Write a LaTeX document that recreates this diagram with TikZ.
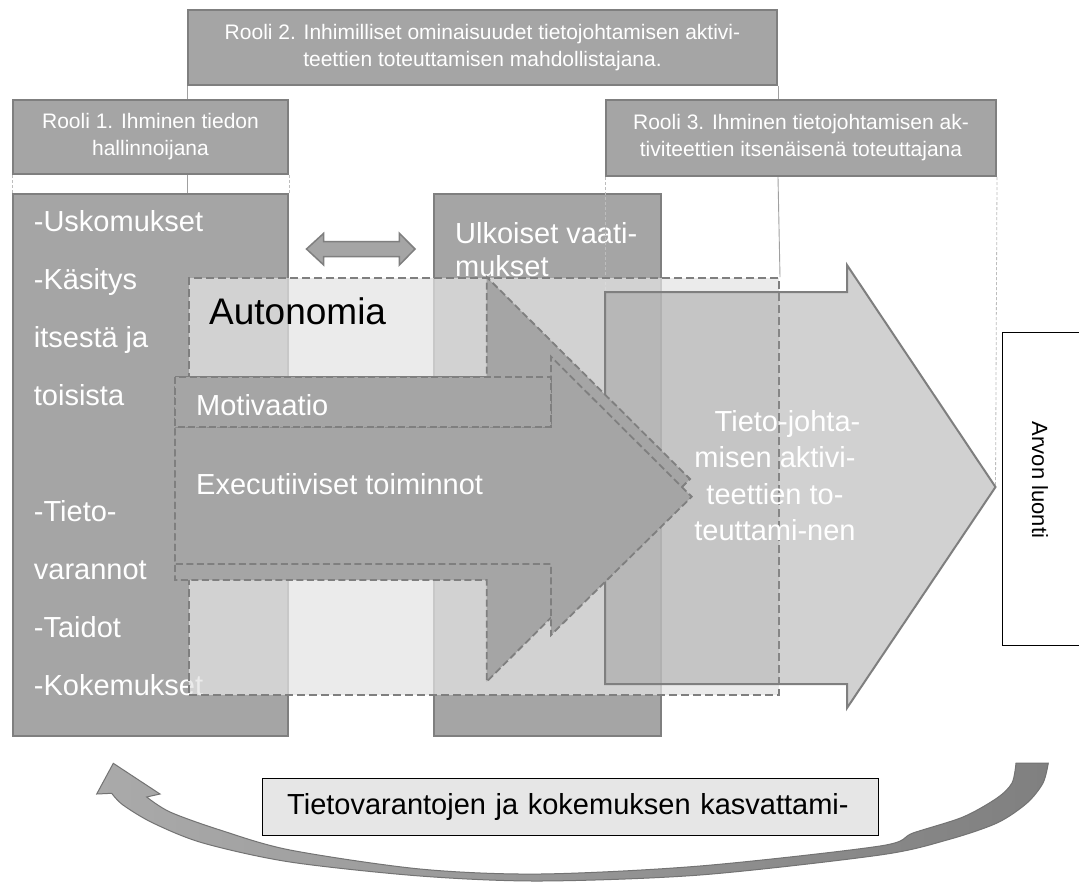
\documentclass[tikz,border=0pt]{standalone}
\usepackage{fontspec}
\setmainfont{Liberation Sans}
\usepackage{xcolor}
\usetikzlibrary{
	arrows.meta,
	calc,
	positioning
}
\definecolor{BoxGray}{RGB}{165,165,165}
\definecolor{EdgeGray}{RGB}{127,127,127}
\definecolor{FogGray}{RGB}{228,228,228}
\definecolor{FlowGray}{RGB}{145,145,145}
\definecolor{GuideGray}{RGB}{160,160,160}
\definecolor{LabelGray}{RGB}{230,230,230}
\definecolor{LoopLight}{RGB}{170,170,170}
\definecolor{LoopDark}{RGB}{128,128,128}

\begin{document}
\begin{tikzpicture}[x=1pt, y=-1pt,
	rolebox/.style={draw=EdgeGray, line width=2pt, fill=BoxGray, text=white, align=center,
		inner sep=0pt, anchor=north west, font=\fontsize{21}{27}\selectfont},
	bigbox/.style={draw=EdgeGray, line width=2pt, fill=BoxGray, anchor=north west, inner sep=0pt},
	whitetxt/.style={text=white, inner sep=0pt, font=\fontsize{29}{58}\selectfont},
	guide/.style={draw=GuideGray, line width=0.9pt},
	guidedash/.style={draw=GuideGray!70, line width=0.8pt, dash pattern=on 3pt off 2pt},
	fogbox/.style={draw=EdgeGray, line width=2pt, dash pattern=on 8pt off 4pt, fill=FogGray,
		fill opacity=0.73, anchor=north west, inner sep=0pt},
	darkflow/.style={draw=EdgeGray, line width=1.8pt, dash pattern=on 7pt off 3.5pt, fill=BoxGray},
	lightflow/.style={draw=EdgeGray, line width=2pt, fill=FlowGray, fill opacity=0.41}
	]
			\fill[white] (0,0) rectangle (1079,884);
			\useasboundingbox (0,0) rectangle (1079,884);
			% 角色
			\node[rolebox, minimum width=589pt, minimum height=75pt] (r2) at (187,9)
				{Rooli 2. Inhimilliset ominaisuudet tietojohtamisen aktivi-\\teettien toteuttamisen mahdollistajana.};
			\node[rolebox, minimum width=275pt, minimum height=74pt] (r1) at (12,99)
				{Rooli 1. Ihminen tiedon\\hallinnoijana};
			\node[rolebox, minimum width=390pt, minimum height=76pt] (r3) at (605,99)
				{Rooli 3. Ihminen tietojohtamisen ak-\\tiviteettien itsenäisenä toteuttajana};
			% 两个大框
			\node[bigbox, minimum width=275pt, minimum height=542pt] (kb) at (12,193) {};
			\node[bigbox, minimum width=226.5pt, minimum height=542pt] (ext) at (433,193) {};
			\node[whitetxt, align=left, anchor=west] (kbtxt) at (33.7,453.5)
				{-Uskomukset\\-Käsitys\\itsestä ja\\toisista\\[58pt]-Tieto-\\varannot\\-Taidot\\-Kokemukset};
			\node[whitetxt, font=\fontsize{29}{33.4}\selectfont, align=left, anchor=west] (exttxt) at (455,249.5)
				{Ulkoiset vaati-\\mukset};
			% 辅助线
			\coordinate (cbody) at (605,292);
			\coordinate (ctip) at (995.5,487);
			\draw[guide] (r2.south west) -- (r2.south west |- r1.north);
			\draw[guide] (r2.south west |- r1.south) -- (r2.south west |- kb.north);
			\draw[guidedash] (r1.south west) -- (kb.north west);
			\draw[guidedash] (r1.south east) -- (kb.north east);
			\draw[guide] (r2.south east) -- (r2.south east |- r3.north);
			\draw[guidedash] (r3.south west) -- (cbody);
			\draw[guidedash] (r3.south east) -- (ctip);
			% 双向箭头
			\draw[fill=BoxGray, draw=EdgeGray, line width=1.5pt] (306.5,249) -- (323.7,233.3) -- (323.7,241.7)
				-- (399.4,241.7) -- (399.4,233.3) -- (415,249) -- (399.4,265) -- (399.4,256.7)
				-- (323.7,256.7) -- (323.7,265) -- cycle;
			% 自主
			\node[fogbox, minimum width=590pt, minimum height=417pt] (auto) at (188,277) {};
			\draw[guide] (r2.south east |- r3.south) -- (auto.north east);
			\node[anchor=base west, inner sep=0pt, font=\fontsize{37}{44}\selectfont] (autotxt) at (209,324) {Autonomia};
			% 浅色大箭头
			\draw[lightflow] (cbody) -- (847,292) -- (847,265) -- (ctip) -- (847,708) -- (847,684) -- (605,684) -- cycle;
			% 深色箭头
			\draw[darkflow] (175,377) -- (486.7,377) -- (486.7,277) -- (690,479) -- (486.7,681.7)
				-- (486.7,580) -- (175,580) -- cycle;
			\draw[darkflow] (175,426.7) -- (551,426.7) -- (551,356.7) -- (691.7,496.7) -- (551,635)
				-- (551,564) -- (175,564) -- cycle;
			\draw[darkflow] (175,377) rectangle (551,426.7);
			\node[whitetxt, anchor=base west] (motxt) at (196,415) {Motivaatio};
			\node[whitetxt, anchor=base west] (extxt) at (196,494) {Executiiviset toiminnot};
			\node[whitetxt, font=\fontsize{29}{36.3}\selectfont, align=center] (tieto) at (775,475.6)
				{\hspace*{25pt}Tieto-johta-\\misen aktivi-\\teettien to-\\teuttami-nen};
			% 价值
			\node[draw=black, line width=1pt, fill=white, anchor=north west, minimum width=79.3pt,
				minimum height=313.3pt, inner sep=0pt] (arvo) at (1001.7,331.7) {};
			\node[rotate=-90, inner sep=0pt, font=\fontsize{22}{26}\selectfont] (arvotxt) at (1040,480) {Arvon luonti};
			% 底部
			\node[draw=black, line width=1pt, fill=LabelGray, anchor=north west, minimum width=615.6pt,
				minimum height=57pt, text width=567pt, align=left, inner xsep=24.3pt, inner ysep=0pt,
				font=\fontsize{29}{34}\selectfont] (grow) at (262.4,778) {Tietovarantojen ja kokemuksen kasvattami-};
			\shade[draw=LoopDark!90!black, line width=1pt, left color=LoopLight, right color=LoopDark]
				(113.3,763.3) -- (96.7,794)
				-- plot[smooth] coordinates {(111.7,793.3) (123,805) (153,823) (203,843) (290,862) (420,876)
					(540,881) (700,875) (880,855) (947,840) (997,823) (1027,803) (1043,783) (1048.3,763)}
				-- plot[smooth] coordinates {(1016,763) (1012,783) (997,798) (963,817) (913,833) (880,846)
					(700,866) (540,874) (420,869) (290,850) (220,830) (170,812) (146.7,797)}
				-- (160,794) -- cycle;
		\end{tikzpicture}
\end{document}
